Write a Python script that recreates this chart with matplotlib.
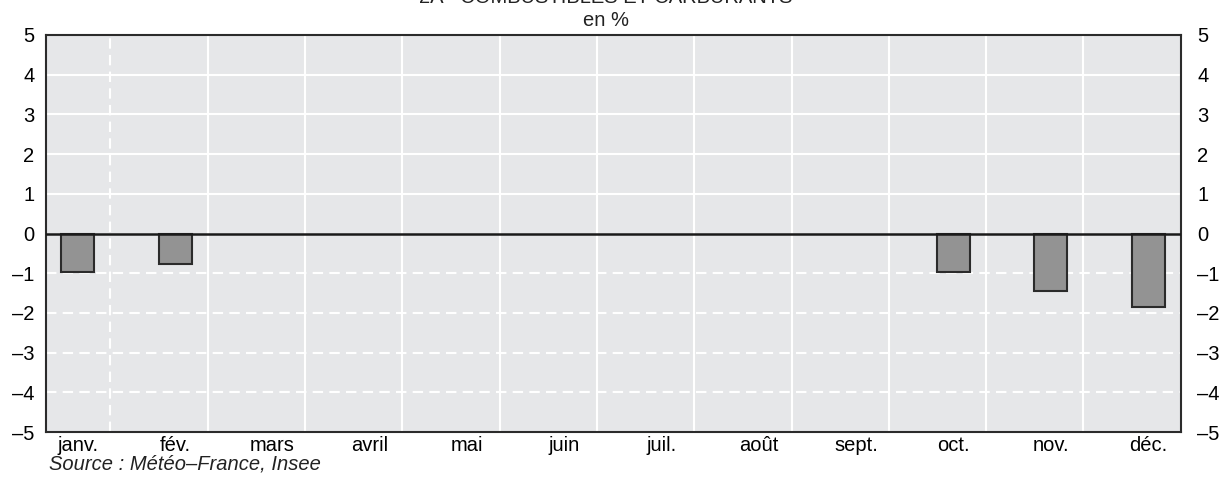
import matplotlib.pyplot as plt
import numpy as np

plt.rcParams['font.family'] = ['Liberation Sans', 'DejaVu Sans']

mois = ['janv.', 'fév.', 'mars', 'avril', 'mai', 'juin', 'juil.', 'août',
        'sept.', 'oct.', 'nov.', 'déc.']
valeurs = [-0.98, -0.76, 0, 0, 0, 0, 0, 0, 0, -0.96, -1.46, -1.84]
graduations = [-5, -4, -3, -2, -1, 0, 1, 2, 3, 4, 5]
etiquettes = [str(g).replace('-', '–') for g in graduations]

taille = 14.5

fig = plt.figure(figsize=(12.19, 4.78), dpi=100)
ax = fig.add_axes([0.0375, 0.0962, 0.9311, 0.8306])
ax.set_facecolor('#e6e7e9')

x = np.arange(len(mois))

# grille : traits pleins au-dessus de 0, pointillés en dessous
for g in graduations:
    if 0 < g < 5:
        ax.axhline(g, color='white', lw=1.5, zorder=1)
    elif -5 < g < 0:
        ax.axhline(g, color='white', lw=1.5, ls=(0, (5, 3)), zorder=1)
for k in range(11):
    ax.axvline(k + 0.335, color='white', lw=1.5,
               ls=(0, (5, 3)) if k == 0 else '-', zorder=1)

barres = [i for i, v in enumerate(valeurs) if v != 0]
ax.bar([x[i] for i in barres], [valeurs[i] for i in barres], width=0.34,
       color='#939393', edgecolor='#2b2b2b', linewidth=1.5, zorder=2)
ax.axhline(0, color='#1a1a1a', lw=1.8, zorder=3)

ax.set_xlim(-0.33, 11.335)
ax.set_ylim(-5, 5)
ax.set_xticks(x)
ax.set_xticklabels(mois, fontsize=taille)
ax.set_yticks(graduations)
ax.set_yticklabels(etiquettes, fontsize=taille)
ax.tick_params(axis='y', length=0, pad=8)
ax.tick_params(axis='x', length=0, pad=3)
for s in ax.spines.values():
    s.set_color('#2b2b2b')
    s.set_linewidth(1.5)

ax2 = ax.twinx()
ax2.set_ylim(-5, 5)
ax2.set_yticks(graduations)
ax2.set_yticklabels(etiquettes, fontsize=taille)
ax2.tick_params(axis='y', length=0, pad=12)
for s in ax2.spines.values():
    s.set_visible(False)

fig.text(0.497, 1 - 3 / 478, '2A - COMBUSTIBLES ET CARBURANTS', ha='center',
         va='baseline', fontsize=taille, color='#222222')
fig.text(0.497, 1 - 26 / 478, 'en %', ha='center', va='baseline', fontsize=taille,
         color='#222222')
fig.text(0.04, 1 - 470 / 478, 'Source : Météo–France, Insee', ha='left',
         va='baseline', fontsize=taille, style='italic', color='#222222')

fig.savefig('out.png', dpi=100)
